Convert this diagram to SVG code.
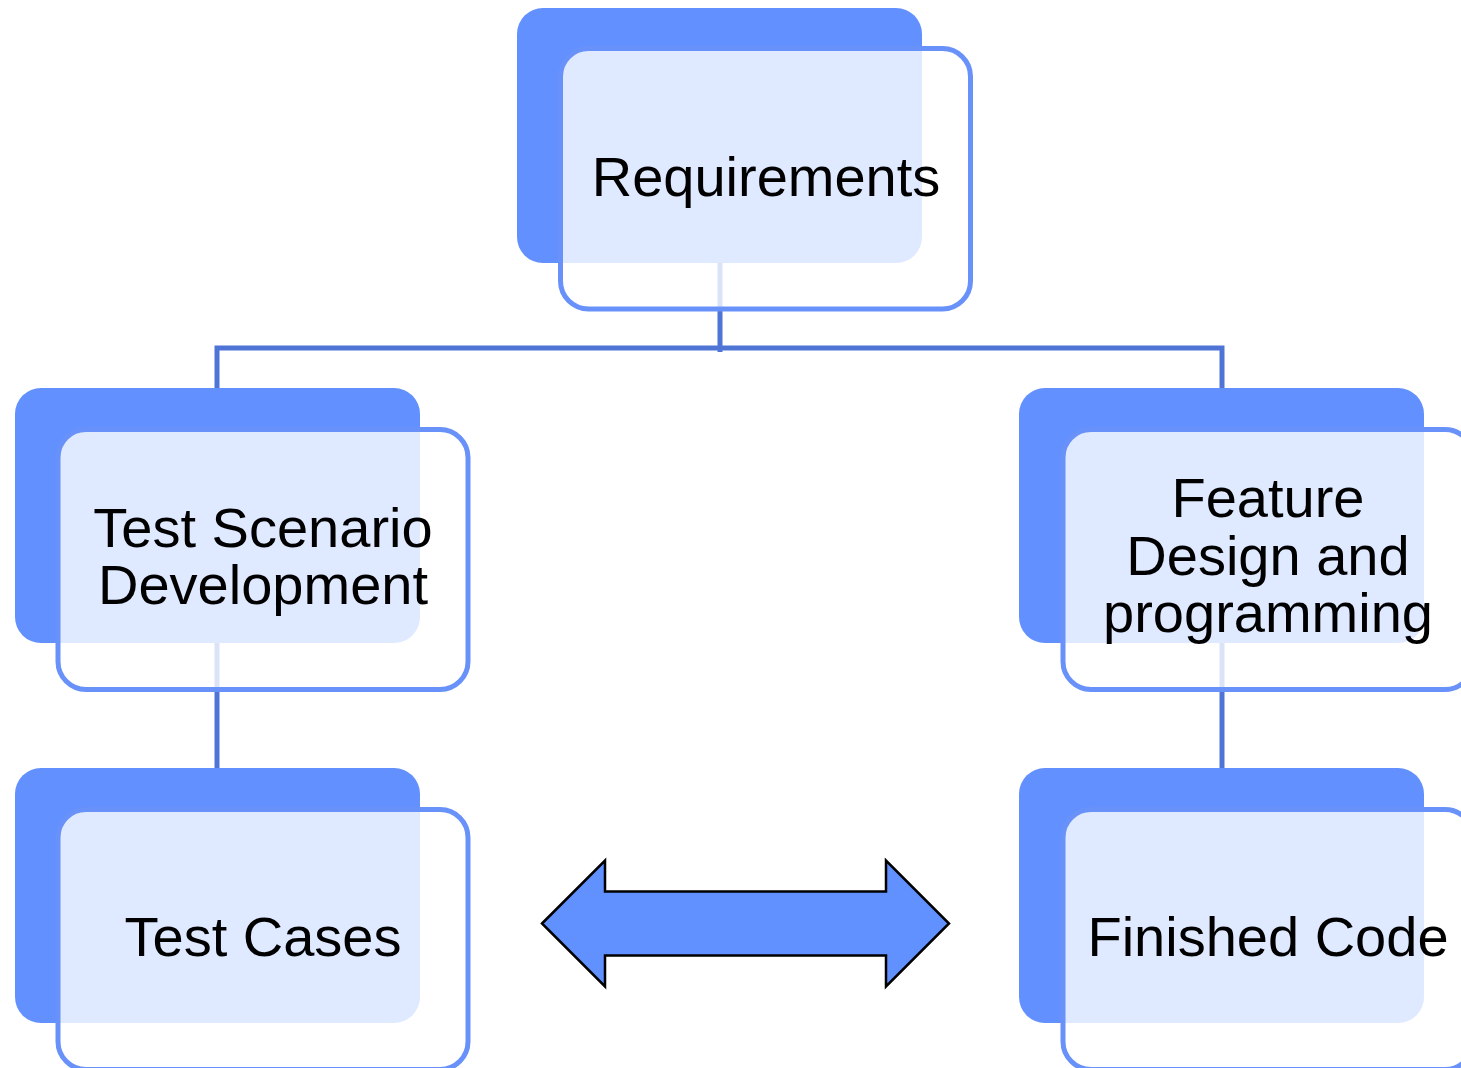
<svg xmlns="http://www.w3.org/2000/svg" width="1461" height="1068" viewBox="0 0 1461 1068">
<style>
.back{fill:#6290FE;}
.front{fill:#FFFFFF;fill-opacity:0.8;stroke:#6892F9;stroke-width:5;}
.conn{stroke:#4E75D6;stroke-width:5;fill:none;}
.lbl{font-family:"Liberation Sans",Arial,sans-serif;font-size:56px;fill:#000;text-anchor:middle;}
</style>
<rect width="1461" height="1068" fill="#FFFFFF"/>
<g id="connectors">
<path class="conn" d="M720,263 V352"/>
<path class="conn" d="M217,388 V348 H1222 V388"/>
<path class="conn" d="M217,643 V768"/>
<path class="conn" d="M1222,643 V768"/>
</g>
<g id="node-requirements">
<rect class="back" x="517" y="8" width="405" height="255" rx="26"/>
<rect class="front" x="560.5" y="48.5" width="410" height="260.5" rx="28"/>
<text class="lbl" x="766" y="196">Requirements</text>
</g>
<g id="node-test-scenario">
<rect class="back" x="15" y="388" width="405" height="255" rx="26"/>
<rect class="front" x="58" y="429.5" width="410" height="260" rx="28"/>
<text class="lbl" x="263" y="547">Test Scenario</text>
<text class="lbl" x="263" y="604">Development</text>
</g>
<g id="node-feature">
<rect class="back" x="1019" y="388" width="405" height="255" rx="26"/>
<rect class="front" x="1063" y="429.5" width="410" height="260" rx="28"/>
<text class="lbl" x="1268" y="517">Feature</text>
<text class="lbl" x="1268" y="575">Design and</text>
<text class="lbl" x="1268" y="632">programming</text>
</g>
<g id="node-test-cases">
<rect class="back" x="15" y="768" width="405" height="255" rx="26"/>
<rect class="front" x="58" y="809.5" width="410" height="260" rx="28"/>
<text class="lbl" x="263" y="956">Test Cases</text>
</g>
<g id="node-finished-code">
<rect class="back" x="1019" y="768" width="405" height="255" rx="26"/>
<rect class="front" x="1063" y="809.5" width="410" height="260" rx="28"/>
<text class="lbl" x="1268" y="956">Finished Code</text>
</g>
<g id="double-arrow">
<polygon points="542,923.5 605,860.5 605,891.5 886,891.5 886,860.5 949,923.5 886,986.5 886,955.5 605,955.5 605,986.5" fill="#6190FF" stroke="#000" stroke-width="2.5" stroke-linejoin="miter"/>
</g>
</svg>
